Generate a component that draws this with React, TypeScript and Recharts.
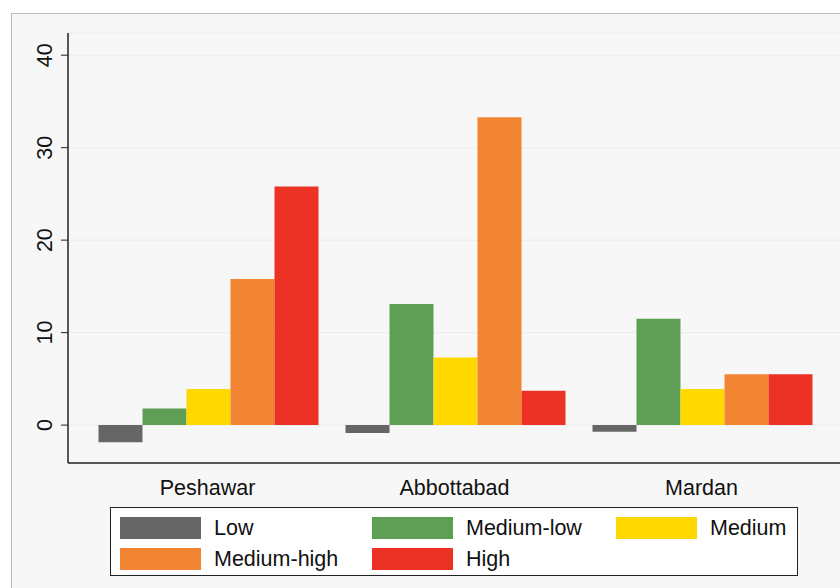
import { BarChart, Bar, XAxis, YAxis, CartesianGrid } from "recharts";

const districts = ["Peshawar", "Abbottabad", "Mardan"];
const low = [-1.85, -0.86, -0.72];
const mediumLow = [1.8, 13.1, 11.5];
const medium = [3.9, 7.3, 3.9];
const mediumHigh = [15.8, 33.3, 5.5];
const high = [25.8, 3.7, 5.5];
const yTicks = [0, 10, 20, 30, 40];

const series = [
  { key: "low", name: "Low", color: "#666666", values: low },
  { key: "mediumLow", name: "Medium-low", color: "#5f9f55", values: mediumLow },
  { key: "medium", name: "Medium", color: "#ffd800", values: medium },
  { key: "mediumHigh", name: "Medium-high", color: "#f28534", values: mediumHigh },
  { key: "high", name: "High", color: "#ec3224", values: high },
];

const data = districts.map((d, i) => {
  const row: Record<string, string | number> = { district: d };
  series.forEach((s) => (row[s.key] = s.values[i]));
  return row;
});

const FONT = "'Liberation Sans', Arial, sans-serif";

function XTick(props: any) {
  const { x, y, payload } = props;
  return (
    <text x={x} y={y + 17} textAnchor="middle" dominantBaseline="central" fontSize={21.5} fontFamily={FONT} fill="#111">
      {payload.value}
    </text>
  );
}

function YTick(props: any) {
  const { y, payload } = props;
  return (
    <text
      x={45}
      y={y}
      transform={`rotate(-90 45 ${y})`}
      textAnchor="middle"
      dominantBaseline="central"
      fontSize={21.5}
      fontFamily={FONT}
      fill="#111"
    >
      {payload.value}
    </text>
  );
}

// legend slots: [left, top] of each swatch
const legendPos = [
  [120, 517],
  [372, 517],
  [616, 517],
  [120, 548],
  [372, 548],
];

export default function App() {
  return (
    <div style={{ position: "absolute", left: 0, top: 0, width: 840, height: 588, background: "#fff", overflow: "hidden", fontFamily: FONT }}>
      <div
        style={{
          position: "absolute",
          left: 11,
          top: 13,
          width: 840,
          height: 600,
          background: "#f7f7f7",
          borderLeft: "1px solid #bdbdbd",
          borderTop: "1px solid #bdbdbd",
        }}
      />
      <div style={{ position: "absolute", left: 0, top: 0 }}>
        <BarChart
          width={840}
          height={588}
          data={data}
          margin={{ top: 33, right: 0, left: 0, bottom: 80 }}
          barCategoryGap={14.5}
          barGap={0}
        >
          <CartesianGrid vertical={false} stroke="#ebebeb" strokeWidth={1} />
          <XAxis
            dataKey="district"
            height={45}
            tick={<XTick />}
            tickLine={false}
            axisLine={{ stroke: "#222", strokeWidth: 1.5 }}
            padding={{ left: 16, right: 15 }}
            interval={0}
          />
          <YAxis
            width={68}
            domain={[-4.1, 42.4]}
            ticks={yTicks}
            tick={<YTick />}
            tickSize={7}
            tickLine={{ stroke: "#222" }}
            axisLine={{ stroke: "#222", strokeWidth: 1.5 }}
            allowDataOverflow
          />
          {series.map((s) => (
            <Bar key={s.key} dataKey={s.key} name={s.name} fill={s.color} isAnimationActive={false} />
          ))}
        </BarChart>
      </div>
      <div
        style={{
          position: "absolute",
          left: 110,
          top: 507,
          width: 688,
          height: 69,
          background: "#fff",
          border: "1.5px solid #222",
          boxSizing: "border-box",
        }}
      />
      {series.map((s, i) => {
        const [lx, ly] = legendPos[i];
        return (
          <div key={s.key}>
            <div style={{ position: "absolute", left: lx, top: ly, width: 81, height: 22, background: s.color }} />
            <div
              style={{
                position: "absolute",
                left: lx + 94,
                top: ly - 2,
                height: 26,
                lineHeight: "26px",
                fontSize: 21.5,
                color: "#111",
                whiteSpace: "nowrap",
              }}
            >
              {s.name}
            </div>
          </div>
        );
      })}
    </div>
  );
}
